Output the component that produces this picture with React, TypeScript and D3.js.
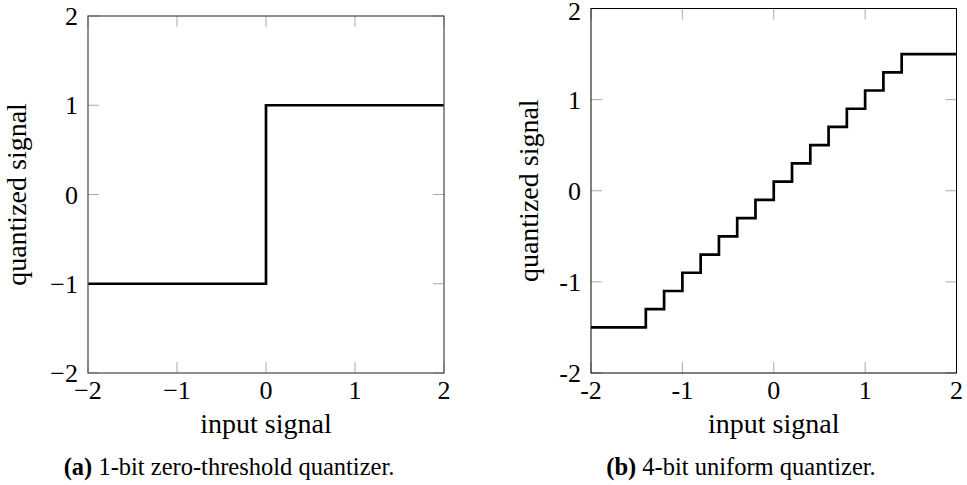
import React, { useRef, useEffect } from "react";
import * as d3 from "d3";

// panel (a): 1-bit zero-threshold quantizer
const signX_a = [-2, 0, 2];
const signY_a = [-1, 1, 1];

// panel (b): 4-bit uniform quantizer (step starts + levels)
const stepX_b = [-2, -1.4, -1.2, -1.0, -0.8, -0.6, -0.4, -0.2, 0, 0.2, 0.4, 0.6, 0.8, 1.0, 1.2, 1.4, 2];
const stepY_b = [-1.5, -1.3, -1.1, -0.9, -0.7, -0.5, -0.3, -0.1, 0.1, 0.3, 0.5, 0.7, 0.9, 1.1, 1.3, 1.5, 1.5];

const ticks = [-2, -1, 0, 1, 2];
const tickLabelsA = ["\u22122", "\u22121", "0", "1", "2"];
const tickLabelsB = ["-2", "-1", "0", "1", "2"];

const FONT = "'Liberation Serif', 'Times New Roman', serif";

type Panel = {
  left: number;
  right: number;
  top: number;
  bottom: number;
  xs: number[];
  ys: number[];
  labels: string[];
  frameColor: string;
  frameWidth: number;
  yLabelX: number;
  tickLabelX: number;
  captionX: number;
  captionTag: string;
  captionText: string;
};

const panels: Panel[] = [
  {
    left: 88, right: 444, top: 16, bottom: 373,
    xs: signX_a, ys: signY_a, labels: tickLabelsA,
    frameColor: "#555", frameWidth: 1.3,
    yLabelX: 26, tickLabelX: 78, captionX: 229,
    captionTag: "(a)", captionText: " 1-bit zero-threshold quantizer.",
  },
  {
    left: 591, right: 956.5, top: 8.5, bottom: 373,
    xs: stepX_b, ys: stepY_b, labels: tickLabelsB,
    frameColor: "#000", frameWidth: 1,
    yLabelX: 538, tickLabelX: 581, captionX: 741,
    captionTag: "(b)", captionText: " 4-bit uniform quantizer.",
  },
];

const App = () => {
  const svgRef = useRef<SVGSVGElement>(null);

  useEffect(() => {
    const svg = d3.select(svgRef.current);
    svg.selectAll("*").remove();

    panels.forEach((p) => {
      const x = d3.scaleLinear().domain([-2, 2]).range([p.left, p.right]);
      const y = d3.scaleLinear().domain([-2, 2]).range([p.bottom, p.top]);
      const g = svg.append("g");
      const tickLen = 11;

      // inner ticks on all four sides
      ticks.forEach((t) => {
        g.append("line")
          .attr("x1", x(t)).attr("x2", x(t))
          .attr("y1", p.bottom).attr("y2", p.bottom - tickLen)
          .attr("stroke", "#aaa");
        g.append("line")
          .attr("x1", x(t)).attr("x2", x(t))
          .attr("y1", p.top).attr("y2", p.top + tickLen)
          .attr("stroke", "#aaa");
        g.append("line")
          .attr("x1", p.left).attr("x2", p.left + tickLen)
          .attr("y1", y(t)).attr("y2", y(t))
          .attr("stroke", "#aaa");
        g.append("line")
          .attr("x1", p.right).attr("x2", p.right - tickLen)
          .attr("y1", y(t)).attr("y2", y(t))
          .attr("stroke", "#aaa");
      });

      // step line
      const line = d3
        .line<number>()
        .x((d, i) => x(p.xs[i]))
        .y((d) => y(d))
        .curve(d3.curveStepAfter);
      g.append("path")
        .attr("d", line(p.ys))
        .attr("fill", "none")
        .attr("stroke", "#000")
        .attr("stroke-width", 2.7);

      // frame
      g.append("rect")
        .attr("x", p.left).attr("y", p.top)
        .attr("width", p.right - p.left).attr("height", p.bottom - p.top)
        .attr("fill", "none")
        .attr("stroke", p.frameColor)
        .attr("stroke-width", p.frameWidth);

      // tick labels
      ticks.forEach((t, i) => {
        g.append("text")
          .attr("x", x(t)).attr("y", 399)
          .attr("text-anchor", "middle")
          .attr("font-family", FONT).attr("font-size", 26)
          .text(p.labels[i]);
        g.append("text")
          .attr("x", p.tickLabelX).attr("y", Math.max(y(t) + 9, 20))
          .attr("text-anchor", "end")
          .attr("font-family", FONT).attr("font-size", 26)
          .text(p.labels[i]);
      });

      // axis labels
      g.append("text")
        .attr("x", (p.left + p.right) / 2).attr("y", 433)
        .attr("text-anchor", "middle")
        .attr("font-family", FONT).attr("font-size", 28)
        .text("input signal");
      g.append("text")
        .attr("transform", `translate(${p.yLabelX},${(p.top + p.bottom) / 2}) rotate(-90)`)
        .attr("text-anchor", "middle")
        .attr("font-family", FONT).attr("font-size", 28)
        .text("quantized signal");

      // caption
      const cap = g.append("text")
        .attr("x", p.captionX).attr("y", 475)
        .attr("text-anchor", "middle")
        .attr("font-family", FONT).attr("font-size", 24.5);
      cap.append("tspan").attr("font-weight", "bold").text(p.captionTag);
      cap.append("tspan").text(p.captionText);
    });

    return () => {
      svg.selectAll("*").remove();
    };
  }, []);

  return (
    <svg
      ref={svgRef}
      width={967}
      height={485}
      style={{ position: "absolute", left: 0, top: 0, background: "#fff" }}
    />
  );
};

export default App;
